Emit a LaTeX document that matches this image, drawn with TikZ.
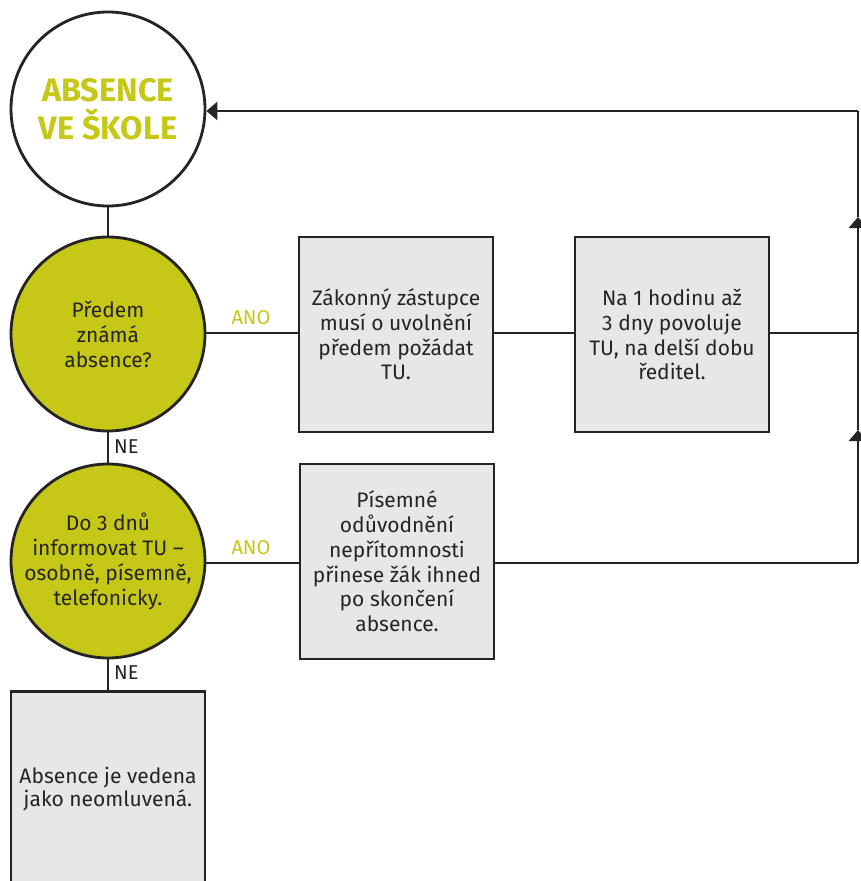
\documentclass[tikz,border=0pt]{standalone}
\usepackage{fontspec}
\setmainfont{Fira Sans}
\usetikzlibrary{arrows.meta}
\definecolor{lime}{HTML}{C6C817}
\definecolor{boxgray}{HTML}{E6E7E8}
\definecolor{ink}{HTML}{262324}
\tikzset{
  conn/.style={draw=ink, line width=2.8pt},
  circ/.style={circle, draw=ink, line width=2.8pt, minimum size=194pt, inner sep=0pt, align=center, text=ink, font=\fontsize{21}{25}\selectfont},
  stepbox/.style={rectangle, draw=ink, fill=boxgray, line width=2.8pt, minimum width=194pt, minimum height=195pt, inner sep=0pt, align=center, text=ink, font=\fontsize{21}{24.8}\selectfont},
  lbl/.style={font=\fontsize{20}{22}\selectfont, inner sep=0pt},
  tip/.style={-{Triangle[length=11pt,width=18pt]}},
}
\begin{document}
\begin{tikzpicture}[x=1pt,y=-1pt]
\useasboundingbox (0,0) rectangle (861,881);
\clip (0,0) rectangle (861,881);
\fill[white] (0,0) rectangle (861,881);
% nodes
\node[circ, fill=white, text=lime, font=\bfseries\fontsize{32.5}{38}\selectfont] (c1) at (108,109) {ABSENCE\\VE ŠKOLE};
\node[circ, fill=lime] (c2) at (108,334) {Předem\\známá\\absence?};
\node[circ, fill=lime] (c3) at (108,561) {Do 3 dnů\\informovat TU –\\osobně, písemně,\\telefonicky.};
\node[stepbox] (b1) at (396,334.5) {Zákonný zástupce\\musí o uvolnění\\předem požádat\\TU.};
\node[stepbox] (b2) at (672,334.5) {Na 1 hodinu až\\3 dny povoluje\\TU, na delší dobu\\ředitel.};
\node[stepbox] (b3) at (397,561.5) {Písemné\\odůvodnění\\nepřítomnosti\\přinese žák ihned\\po skončení\\absence.};
\node[stepbox, font=\fontsize{21}{23.5}\selectfont] (b4) at (108,789) {Absence je vedena\\jako neomluvená.};
% labels
\node[lbl, text=lime] (ano1) at (251,318) {ANO};
\node[lbl, text=lime] (ano2) at (251,548) {ANO};
\node[lbl, text=ink, anchor=west] (ne1) at (114,447) {NE};
\node[lbl, text=ink, anchor=west] (ne2) at (114,673) {NE};
% coordinates on the right return line
\coordinate (r3) at (858,563);
\coordinate (a2) at (858,430);
\coordinate (r2) at (858,333);
\coordinate (a1) at (858,217);
\coordinate (r1) at (858,111);
% connectors
\draw[conn] (c1.south) -- (c2.north);
\draw[conn] (c2.south) -- (c3.north);
\draw[conn] (c3.south) -- (b4.north);
\draw[conn] (c2.east |- 0,333) -- (b1.west |- 0,333);
\draw[conn] (b1.east |- 0,333) -- (b2.west |- 0,333);
\draw[conn] (b2.east |- 0,333) -- (r2);
\draw[conn] (c3.east |- 0,563) -- (b3.west |- 0,563);
\draw[conn] (b3.east |- 0,563) -- (r3);
\draw[conn, tip] (r3) -- (a2);
\draw[conn] (a2) -- (r2);
\draw[conn, tip] (r2) -- (a1);
\draw[conn] (a1) -- (r1);
\draw[conn, tip] (r1) -- (c1.east |- r1);
\end{tikzpicture}
\end{document}
